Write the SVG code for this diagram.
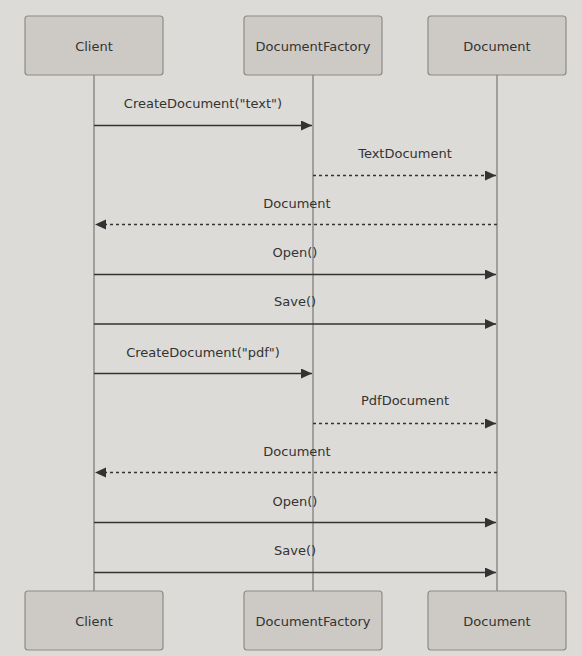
<svg xmlns="http://www.w3.org/2000/svg" width="582" height="656" viewBox="0 0 582 656">
<style>
.bg{fill:#dcdbd8}
.actor rect{fill:#cdcac5;stroke:#8e8b87;stroke-width:1.2}
.actor text,.lbl{font-family:"DejaVu Sans",Verdana,sans-serif;font-size:13px;fill:#333;text-anchor:middle}
.life{stroke:#8e8b87;stroke-width:1.5}
.msg{stroke:#333;stroke-width:1.5;fill:none}
.dash{stroke-dasharray:3,3}
</style>
<defs>
<marker id="ah" markerWidth="12" markerHeight="12" refX="11" refY="5" orient="auto" markerUnits="userSpaceOnUse">
<path d="M0,0 L11,5 L0,10 z" fill="#333"/>
</marker>
</defs>
<rect class="bg" x="0" y="0" width="582" height="656"/>
<g id="lifelines">
<line class="life" x1="94" y1="75" x2="94" y2="591"/>
<line class="life" x1="313" y1="75" x2="313" y2="591"/>
<line class="life" x1="497" y1="75" x2="497" y2="591"/>
</g>
<g id="client-top" class="actor"><rect x="25" y="16" width="138" height="59" rx="3"/><text x="94" y="51">Client</text></g>
<g id="factory-top" class="actor"><rect x="244" y="16" width="138" height="59" rx="3"/><text x="313" y="51">DocumentFactory</text></g>
<g id="document-top" class="actor"><rect x="428" y="16" width="138" height="59" rx="3"/><text x="497" y="51">Document</text></g>
<g id="client-bottom" class="actor"><rect x="25" y="591" width="138" height="59" rx="3"/><text x="94" y="626">Client</text></g>
<g id="factory-bottom" class="actor"><rect x="244" y="591" width="138" height="59" rx="3"/><text x="313" y="626">DocumentFactory</text></g>
<g id="document-bottom" class="actor"><rect x="428" y="591" width="138" height="59" rx="3"/><text x="497" y="626">Document</text></g>
<g id="connectors">
<line class="msg" x1="94" y1="125.5" x2="312" y2="125.5" marker-end="url(#ah)"/>
<text class="lbl" x="203" y="108">CreateDocument("text")</text>
<line class="msg dash" x1="313" y1="175.5" x2="496" y2="175.5" marker-end="url(#ah)"/>
<text class="lbl" x="405" y="158">TextDocument</text>
<line class="msg dash" x1="497" y1="224.5" x2="95" y2="224.5" marker-end="url(#ah)"/>
<text class="lbl" x="297" y="208">Document</text>
<line class="msg" x1="94" y1="274.5" x2="496" y2="274.5" marker-end="url(#ah)"/>
<text class="lbl" x="295" y="257">Open()</text>
<line class="msg" x1="94" y1="324" x2="496" y2="324" marker-end="url(#ah)"/>
<text class="lbl" x="295" y="306">Save()</text>
<line class="msg" x1="94" y1="373.5" x2="312" y2="373.5" marker-end="url(#ah)"/>
<text class="lbl" x="203" y="357">CreateDocument("pdf")</text>
<line class="msg dash" x1="313" y1="423.5" x2="496" y2="423.5" marker-end="url(#ah)"/>
<text class="lbl" x="405" y="405">PdfDocument</text>
<line class="msg dash" x1="497" y1="472.5" x2="95" y2="472.5" marker-end="url(#ah)"/>
<text class="lbl" x="297" y="456">Document</text>
<line class="msg" x1="94" y1="522.5" x2="496" y2="522.5" marker-end="url(#ah)"/>
<text class="lbl" x="295" y="506">Open()</text>
<line class="msg" x1="94" y1="572.5" x2="496" y2="572.5" marker-end="url(#ah)"/>
<text class="lbl" x="295" y="555">Save()</text>
</g>
</svg>
